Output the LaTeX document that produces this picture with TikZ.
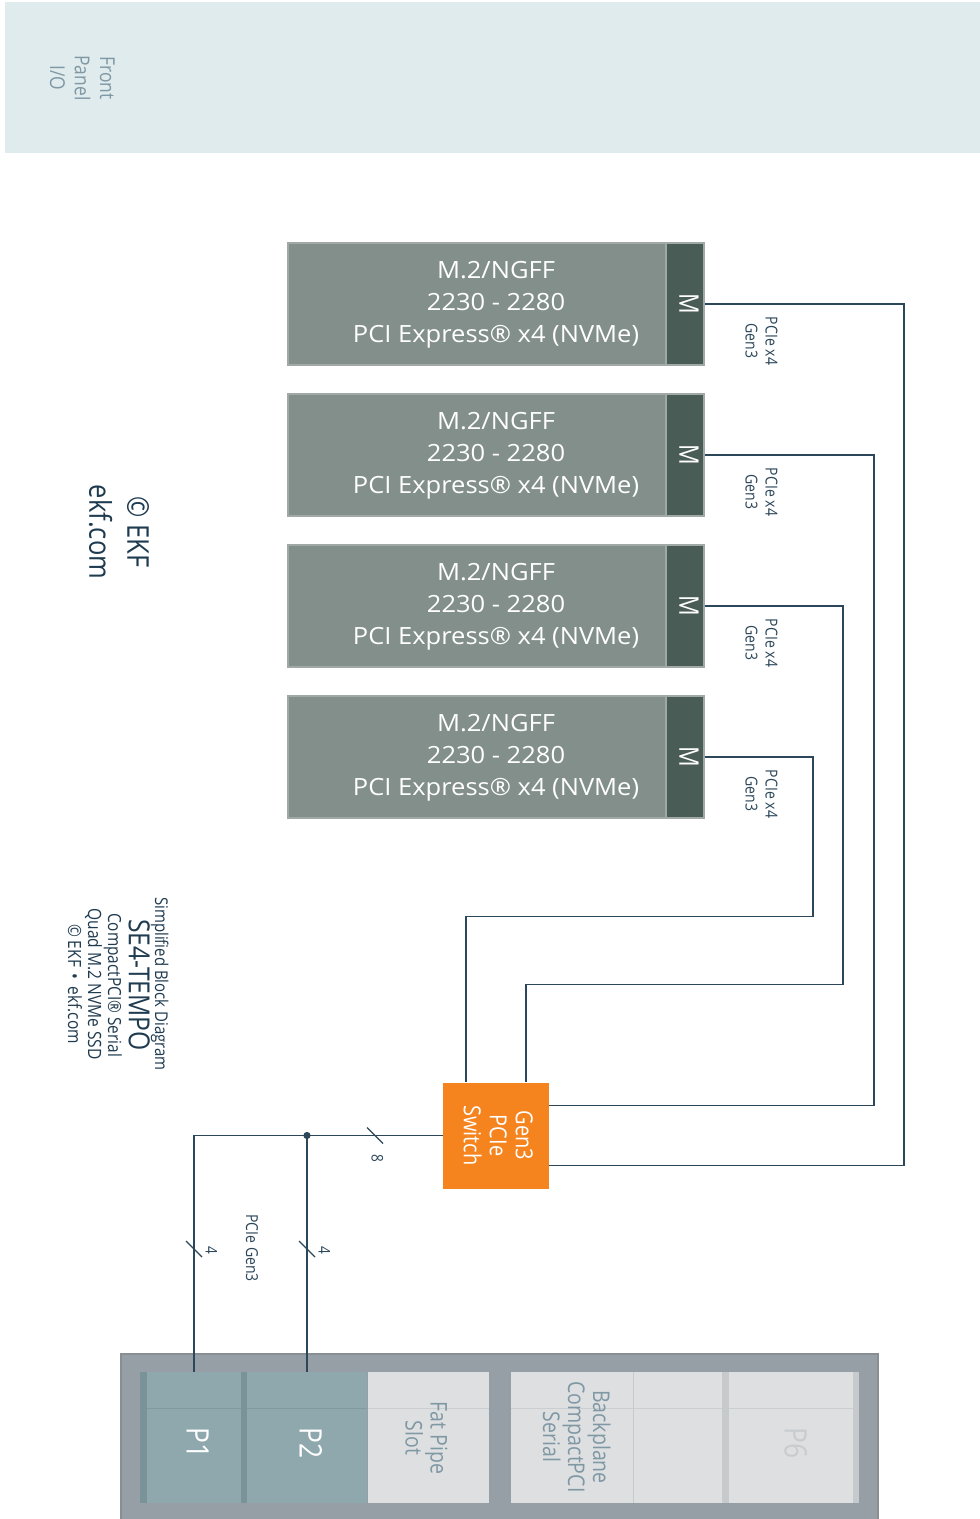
\documentclass[tikz,border=0pt]{standalone}
\usepackage{fontspec}
\setmainfont{Open Sans}
\usepackage{graphicx}
\usetikzlibrary{calc}
\definecolor{panelbg}{HTML}{E0EBED}
\definecolor{paneltxt}{HTML}{7F98A4}
\definecolor{mfill}{HTML}{838F8B}
\definecolor{medge}{HTML}{A0A9A6}
\definecolor{mtab}{HTML}{4A5C56}
\definecolor{orng}{HTML}{F5841F}
\definecolor{wirec}{HTML}{2C475A}
\definecolor{navy}{HTML}{1F3B50}
\definecolor{framec}{HTML}{959FA5}
\definecolor{framedk}{HTML}{878F94}
\definecolor{pslot}{HTML}{8FA8AE}
\definecolor{psep}{HTML}{7A9398}
\definecolor{pline}{HTML}{809AA0}
\definecolor{lslot}{HTML}{DDDFE1}
\definecolor{lsep}{HTML}{C7CACC}
\definecolor{lline}{HTML}{CBCED1}
\definecolor{ptxt}{HTML}{C9CCCE}
\newcommand\vsc{0.85}
\newcommand\rottxt[3]{\scalebox{1}[\vsc]{\rotatebox{-90}{\fontsize{#1}{#2}\selectfont\begin{tabular}{@{}c@{}}#3\end{tabular}}}}
\newcommand\flattxt[3]{\scalebox{1}[0.93]{\fontsize{#1}{#2}\selectfont\begin{tabular}{@{}c@{}}#3\end{tabular}}}
\begin{document}
\begin{tikzpicture}[x=1pt,y=-1pt,
  txt/.style={inner sep=0pt, outer sep=0pt},
  wire/.style={draw=wirec, line width=1.6pt},
  mbody/.style={draw=medge, line width=1.8pt, fill=mfill, minimum width=416pt, minimum height=122pt, inner sep=0pt, text=white},
  mtabst/.style={draw=medge, line width=1.8pt, fill=mtab, minimum width=38pt, minimum height=122pt, inner sep=0pt, text=white},
  swbox/.style={fill=orng, minimum width=106pt, minimum height=106pt, inner sep=0pt},
  pslotst/.style={fill=pslot, inner sep=0pt, minimum height=131pt},
  lslotst/.style={fill=lslot, inner sep=0pt, minimum height=131pt},
  pcilbl/.style={txt, text=wirec},
  slash/.style={draw=wirec, line width=1.3pt}
]
\useasboundingbox (0,0) rectangle (980,1519);
\fill[white] (0,0) rectangle (980,1519);

% front panel
\fill[panelbg] (5,2) rectangle (980,153);
\node[txt, text=paneltxt] (fpt) at (80,78) {\rottxt{20.5}{25}{Front\\Panel\\I/O}};

% copyright
\node[txt, text=navy] (cpy) at (116,532) {\rottxt{30}{38}{© EKF\\ekf.com}};

% M.2 modules
\foreach \i/\yy in {1/304,2/455,3/606,4/757}{
  \node[mbody] (b\i) at (496,\yy) {\flattxt{25.5}{34.4}{M.2/NGFF\\2230 - 2280\\PCI Express® x4 (NVMe)}};
  \node[mtabst] (m\i) at (685,\yy) {\rottxt{27}{28}{M}};
  \node[pcilbl] (l\i) at (759.5,\yy+37) {\rottxt{16.5}{20}{PCIe x4\\Gen3}};
}

% switch
\node[swbox] (sw) at (496,1135.5) {};
\node[txt, text=white] (swt) at (495,1135.5) {\rottxt{23.5}{26}{Gen3\\PCIe\\Switch}};

% title block
\node[txt, text=navy] (t1) at (159,984) {\rottxt{17.6}{20}{Simplified Block Diagram}};
\node[txt, text=navy] (t2) at (135,985) {\rottxt{29}{30}{SE4-TEMPO}};
\node[txt, text=navy] (t3) at (112,985) {\rottxt{18.1}{20}{CompactPCI® Serial}};
\node[txt, text=navy] (t4) at (92,984) {\rottxt{18.3}{20}{Quad M.2 NVMe SSD}};
\node[txt, text=navy] (t5) at (72,984) {\rottxt{18.2}{20}{© EKF\hspace{0.45em}•\hspace{0.45em}ekf.com}};

% backplane frame
\fill[framec] (120,1353) rectangle (879,1519);
\draw[framedk, line width=2pt] (121,1519) -- (121,1354) -- (878,1354) -- (878,1519);
\fill[psep] (140,1372) rectangle (147,1503);
\node[pslotst, minimum width=94pt] (p1) at (194,1437.5) {};
\fill[psep] (241,1372) rectangle (247,1503);
\node[pslotst, minimum width=120pt] (p2) at (307,1437.5) {};
\node[lslotst, minimum width=121pt] (fps) at (428.5,1437.5) {};
\node[lslotst, minimum width=122pt] (bps) at (572,1437.5) {};
\node[lslotst, minimum width=89pt] (es) at (677.5,1437.5) {};
\fill[lsep] (722,1372) rectangle (729,1503);
\node[lslotst, minimum width=124pt] (p6) at (791,1437.5) {};
\fill[lsep] (853,1372) rectangle (859,1503);
\draw[lsep, line width=0.8pt] (633,1372) -- (633,1503);
\draw[pline, line width=1pt] (147,1408) -- (241,1408) (247,1408) -- (367,1408);
\draw[lline, line width=1pt] (368,1408) -- (489,1408) (511,1408) -- (722,1408) (729,1408) -- (853,1408);

\node[txt, text=white] (p1t) at (193,1443) {\rottxt{31}{32}{P1}};
\node[txt, text=white] (p2t) at (306,1443) {\rottxt{31}{32}{P2}};
\node[txt, text=paneltxt] (fpt2) at (423,1438) {\rottxt{23}{25}{Fat Pipe\\Slot}};
\node[txt, text=paneltxt] (bpt) at (573,1437) {\rottxt{23}{25}{Backplane\\CompactPCI\\Serial}};
\node[txt, text=ptxt] (p6t) at (791,1443) {\rottxt{31}{32}{P6}};

% connectors from modules to switch
\draw[wire] (m1.east) -| ($(sw.east)+(355,30)$) -- ($(sw.east)+(0,30)$);
\draw[wire] (m2.east) -| ($(sw.east)+(325,-30)$) -- ($(sw.east)+(0,-30)$);
\draw[wire] (m3.east) -| ($(sw.north)+(347,-98)$) -| ($(sw.north)+(30,0)$);
\draw[wire] (m4.east) -| ($(sw.north)+(317,-166)$) -| ($(sw.north)+(-30,0)$);

% switch to backplane
\coordinate (jn) at (307,1135.5);
\draw[wire] (sw.west) -- (jn) -| (p1.north);
\draw[wire] (jn) -- (p2.north);
\fill[wirec] (jn) circle (3.6);

% bus width marks
\draw[slash] (367,1127.5) -- (383,1143.5);
\draw[slash] (186,1241) -- (202,1257);
\draw[slash] (299,1241) -- (315,1257);
\node[pcilbl] (n8) at (375,1158) {\rottxt{16}{16}{8}};
\node[pcilbl] (n4a) at (209,1250) {\rottxt{16}{16}{4}};
\node[pcilbl] (n4b) at (322,1250) {\rottxt{16}{16}{4}};
\node[pcilbl] (pg) at (250,1248) {\rottxt{16.5}{20}{PCIe Gen3}};
\end{tikzpicture}
\end{document}
